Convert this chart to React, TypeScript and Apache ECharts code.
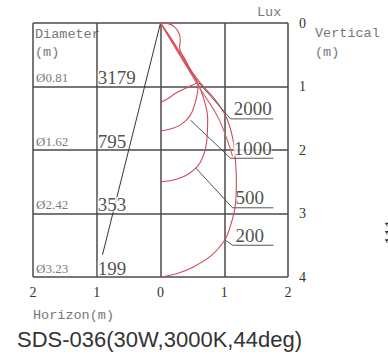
import React, { useEffect, useRef } from "react";
import * as echarts from "echarts";

// ---- data ----
const depths = [1, 2, 3, 4];
const diameters = ["Ø0.81", "Ø1.62", "Ø2.42", "Ø3.23"];
const centerLux = [3179, 795, 353, 199];
const isoLabels = ["2000", "1000", "500", "200"];

const curve2000 = [[0, 0], [0.12, 0.01], [0.22, 0.06], [0.29, 0.16], [0.31, 0.27], [0.3, 0.38], [0.4, 0.6], [0.5, 0.8], [0.57, 0.93], [0.45, 1.0], [0.25, 1.1], [0.1, 1.2], [0, 1.25]];
const curve1000 = [[0, 0], [0.1, 0.17], [0.3, 0.5], [0.46, 0.76], [0.59, 0.97], [0.56, 1.2], [0.47, 1.45], [0.32, 1.6], [0.15, 1.67], [0, 1.7]];
const curve500 = [[0, 0], [0.11, 0.17], [0.31, 0.5], [0.47, 0.76], [0.6, 0.98], [0.68, 1.2], [0.74, 1.5], [0.72, 1.9], [0.62, 2.2], [0.45, 2.37], [0.25, 2.46], [0, 2.5]];
const curve200 = [[0, 0], [0.12, 0.17], [0.33, 0.5], [0.49, 0.76], [0.63, 0.95], [0.85, 1.2], [1.03, 1.48], [1.13, 1.8], [1.17, 2.1], [1.19, 2.5], [1.17, 2.9], [1.08, 3.25], [1.0, 3.43], [0.8, 3.66], [0.5, 3.85], [0.25, 3.95], [0, 4]];
const curveExtra = [[0, 0], [0.12, 0.2], [0.33, 0.55], [0.6, 1.0], [0.9, 1.48], [1.05, 1.85], [1.13, 2.1]];

const leader2000 = [[0.6, 0.94], [1.1, 1.51], [1.77, 1.51]];
const leader1000 = [[0.47, 1.53], [1.1, 2.13], [1.77, 2.13]];
const leader500 = [[0.55, 2.28], [1.13, 2.91], [1.77, 2.91]];
const leader200 = [[1.02, 3.42], [1.13, 3.5], [1.77, 3.5]];

const beamLine = [[0, 0], [-0.91, 3.65]];

const App: React.FC = () => {
  const ref = useRef<HTMLDivElement>(null);
  useEffect(() => {
    if (!ref.current) return;
    const chart = echarts.init(ref.current, undefined, { renderer: "svg" });
    const red = "#d04a5c";
    const curveSeries = [curve2000, curve1000, curve500, curve200, curveExtra].map((d, i) => ({
      type: "line",
      data: d,
      smooth: 0.35,
      symbol: "none",
      z: 3,
      lineStyle: { color: i === 4 ? "#d86060" : red, width: 1.1 },
    }));
    const leaders = [leader2000, leader1000, leader500, leader200];
    const leaderSeries = leaders.map((d) => ({
      type: "line",
      data: d,
      symbol: "none",
      z: 4,
      lineStyle: { color: "#555", width: 1 },
    }));
    const serif = "Liberation Serif";
    const mono = "Liberation Mono";
    const monoFont = `13.5px ${mono}`;
    chart.setOption({
      animation: false,
      grid: { left: 33, top: 23, width: 255, height: 254, show: false },
      xAxis: {
        type: "value",
        min: -2,
        max: 2,
        interval: 1,
        axisLine: { show: false },
        axisTick: { show: false },
        axisLabel: {
          formatter: (v: number) => String(Math.abs(v)),
          fontFamily: serif,
          fontSize: 14,
          color: "#333",
          margin: 8,
        },
        splitLine: { show: true, lineStyle: { color: "#4a4a4a", width: 1.5 } },
      },
      yAxis: {
        type: "value",
        min: 0,
        max: 4,
        interval: 1,
        inverse: true,
        position: "right",
        axisLine: { show: false },
        axisTick: { show: false },
        axisLabel: { fontFamily: serif, fontSize: 14, color: "#333", margin: 11 },
        splitLine: { show: true, lineStyle: { color: "#4a4a4a", width: 1.5 } },
      },
      series: [
        {
          type: "line",
          data: beamLine,
          symbol: "none",
          z: 2,
          lineStyle: { color: "#333", width: 1 },
        },
        ...curveSeries,
        ...leaderSeries,
        {
          type: "scatter",
          symbolSize: 0,
          z: 6,
          data: centerLux.map((v, i) => ({ value: [-1, depths[i]], name: String(v) })),
          label: {
            show: true,
            formatter: (p: any) => p.name,
            position: [1, -9],
            align: "left",
            verticalAlign: "middle",
            fontFamily: serif,
            fontSize: 19,
            color: "#222",
            backgroundColor: "#fff",
            lineHeight: 15,
            padding: [0, 2, 0, 0],
          },
        },
        {
          type: "scatter",
          symbolSize: 0,
          z: 6,
          data: diameters.map((v, i) => ({ value: [-2, depths[i]], name: v })),
          label: {
            show: true,
            formatter: (p: any) => p.name,
            position: [3, -9],
            align: "left",
            verticalAlign: "middle",
            fontFamily: serif,
            fontSize: 13,
            color: "#555",
          },
        },
        {
          type: "scatter",
          symbolSize: 0,
          z: 6,
          data: leaders.map((l, i) => ({
            value: l[1],
            name: isoLabels[i],
            label: i === 1 ? { backgroundColor: "#fff" } : {},
          })),
          label: {
            show: true,
            formatter: (p: any) => p.name,
            position: [3, -10],
            align: "left",
            verticalAlign: "middle",
            fontFamily: serif,
            fontSize: 19,
            color: "#222",
            lineHeight: 15,
          },
        },
      ],
      graphic: [
        { type: "text", left: 257, top: 5, style: { text: "Lux", font: monoFont, fill: "#777" } },
        { type: "text", left: 315, top: 26, style: { text: "Vertical", font: monoFont, fill: "#777" } },
        { type: "text", left: 315, top: 45, style: { text: "(m)", font: monoFont, fill: "#777" } },
        { type: "text", left: 35, top: 27, style: { text: "Diameter", font: monoFont, fill: "#777" } },
        { type: "text", left: 35, top: 45, style: { text: "(m)", font: monoFont, fill: "#777" } },
        { type: "text", left: 33, top: 308, style: { text: "Horizon(m)", font: monoFont, fill: "#777" } },
        {
          type: "text",
          left: 17,
          top: 328,
          style: { text: "SDS-036(30W,3000K,44deg)", font: `22px "Liberation Sans"`, fill: "#333" },
        },
        {
          type: "text",
          x: 392,
          y: 218,
          rotation: Math.PI / 2,
          style: { text: "111mm", font: `18px ${serif}`, fill: "#333", align: "center", verticalAlign: "middle" },
        },
      ],
    });
    return () => chart.dispose();
  }, []);
  return <div ref={ref} style={{ position: "fixed", left: 0, top: 0, width: 388, height: 363, background: "#fff" }} />;
};

export default App;
